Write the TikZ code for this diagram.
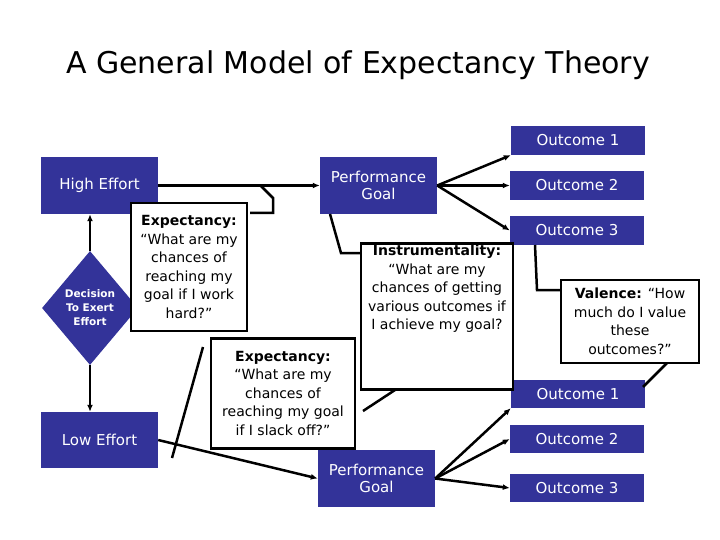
\documentclass[tikz,border=0pt]{standalone}
\usepackage{fontspec}
\setmainfont{DejaVu Sans}
\usetikzlibrary{arrows.meta,shapes.geometric}
\definecolor{bb}{HTML}{333399}
\begin{document}
\begin{tikzpicture}[x=1pt,y=-1pt,
  bx/.style={fill=bb,text=white,inner sep=0pt,align=center,font=\fontsize{15}{17}\selectfont},
  wb/.style={draw=black,line width=2.5pt,fill=white,inner sep=0pt,align=center,font=\fontsize{14}{18.5}\selectfont},
  ar/.style={line width=2.5pt,-{Latex[length=7pt,width=6pt]}},
  ln/.style={line width=2.5pt}]
\useasboundingbox (0,0) rectangle (720,540);
\node[font=\fontsize{30}{34}\selectfont] (title) at (358,65) {A General Model of Expectancy Theory};
% boxes (corner-based)
\node[bx,minimum width=117pt,minimum height=57pt] (he) at (99.5,185.5) {High Effort};
\node[bx,minimum width=117pt,minimum height=57pt] (pg1) at (378.5,185.5) {Performance\\Goal};
\node[bx,minimum width=134pt,minimum height=29pt] (o11) at (578,140.5) {Outcome 1};
\node[bx,minimum width=134pt,minimum height=29pt] (o12) at (577,185.5) {Outcome 2};
\node[bx,minimum width=134pt,minimum height=29pt] (o13) at (577,230.5) {Outcome 3};
\node[bx,minimum width=117pt,minimum height=56pt] (le) at (99.5,440) {Low Effort};
\node[bx,minimum width=117pt,minimum height=57pt] (pg2) at (376.5,478.5) {Performance\\Goal};
\node[bx,minimum width=134pt,minimum height=28pt] (o21) at (578,394) {Outcome 1};
\node[bx,minimum width=134pt,minimum height=28pt] (o22) at (577,439) {Outcome 2};
\node[bx,minimum width=134pt,minimum height=28pt] (o23) at (577,488) {Outcome 3};
\node[diamond,fill=bb,text=white,inner sep=0pt,minimum width=96pt,minimum height=114pt,align=center,font=\bfseries\fontsize{10.5}{14}\selectfont] (dec) at (90,308) {Decision\\To Exert\\Effort};
% callout lines (behind white boxes)
\coordinate (c1a) at (273,213); \coordinate (c1b) at (273,198); \coordinate (c1c) at (260,185);
\draw[ln] (250,213) -- (c1a) -- (c1b) -- (c1c);
\coordinate (c2a) at (330,214); \coordinate (c2b) at (341,253); \coordinate (c2c) at (362,253);
\draw[ln] (c2a) -- (c2b) -- (c2c);
\coordinate (c3a) at (535,245); \coordinate (c3b) at (537,290); \coordinate (c3c) at (562,290);
\draw[ln] (c3a) -- (c3b) -- (c3c);
\coordinate (c4a) at (203,347); \coordinate (c4b) at (172,458);
\draw[ln] (c4a) -- (c4b);
\coordinate (c5a) at (395,390); \coordinate (c5b) at (363,411);
\draw[ln] (c5a) -- (c5b);
\coordinate (c6a) at (667,363); \coordinate (c6b) at (643,387);
\draw[ln] (c6a) -- (c6b);
% white boxes
\node[wb,minimum width=116pt,minimum height=128pt] (ex1) at (189,267) {\textbf{Expectancy:}\\``What are my\\chances of\\reaching my\\goal if I work\\hard?''};
\node[wb,minimum width=144pt,minimum height=110pt,anchor=north] (ex2) at (283,337) {\textbf{Expectancy:}\\``What are my\\chances of\\reaching my goal\\if I slack off?''};
\node[wb,minimum width=152pt,minimum height=146pt,anchor=north] (ins) at (437,242) {\textbf{Instrumentality:}\\``What are my\\chances of getting\\various outcomes if\\I achieve my goal?\\[2.1\baselineskip]};
\node[wb,minimum width=138pt,minimum height=83pt] (val) at (630,321.5) {\textbf{Valence:} ``How\\much do I value\\these\\outcomes?''};
% arrows
\draw[ar] (he) -- (pg1);
\draw[ar] (dec.north) -- (he.south -| dec.north);
\draw[ar] (dec.south) -- (le.north -| dec.south);
\draw[ar] (pg1.east) -- (o11.south west);
\draw[ar] (pg1.east) -- (o12.west);
\draw[ar] (pg1.east) -- (o13.west);
\draw[ar] (le.east) -- (pg2.west);
\draw[ar] (pg2.east) -- (o21.south west);
\draw[ar] (pg2.east) -- (o22.west);
\draw[ar] (pg2.east) -- (o23.west);
\end{tikzpicture}
\end{document}
